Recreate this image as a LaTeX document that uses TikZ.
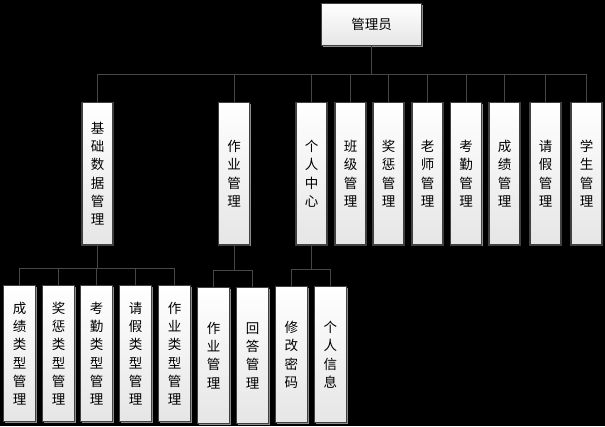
\documentclass[tikz,border=0pt]{standalone}
\usepackage{fontspec}
\newfontfamily\cjkf{Noto Sans CJK SC}
\usetikzlibrary{shadows}
\begin{document}
\begin{tikzpicture}[x=1pt,y=-1pt,
  box/.style={draw=black!75,line width=1.2pt,top color=white,bottom color=black!10,
    drop shadow={shadow xshift=1.2pt,shadow yshift=-1.2pt,fill=black!45,opacity=1},
    inner sep=0pt,align=center,font=\cjkf\fontsize{13.5}{18.3}\selectfont},
  vbox/.style={box,minimum width=31pt},
  conn/.style={draw=black!72,line width=0.9pt}]
\fill[black] (0,0) rectangle (605,426);
\useasboundingbox (0,0) rectangle (605,426);
\node[box,minimum width=100pt,minimum height=42pt] (root) at (371.7,24.5) {管理员};
% row 2
\foreach \n/\x/\t in {r1/97.5/基\\础\\数\\据\\管\\理, r2/234/作\\业\\管\\理, r3/311.5/个\\人\\中\\心,
  r4/350.5/班\\级\\管\\理, r5/388.5/奖\\惩\\管\\理, r6/427.5/老\\师\\管\\理, r7/466/考\\勤\\管\\理,
  r8/504.5/成\\绩\\管\\理, r9/545.5/请\\假\\管\\理, r10/586.5/学\\生\\管\\理}
  {\node[vbox,minimum height=142.5pt] (\n) at (\x,173.7) {\t};}
% row 3
\foreach \n/\x/\t in {a1/19.5/成\\绩\\类\\型\\管\\理, a2/58.5/奖\\惩\\类\\型\\管\\理, a3/96.5/考\\勤\\类\\型\\管\\理,
  a4/135.5/请\\假\\类\\型\\管\\理, a5/174.5/作\\业\\类\\型\\管\\理}
  {\node[vbox,minimum width=32pt,minimum height=136pt] (\n) at (\x,353.7) {\t};}
\node[vbox,minimum width=32pt,minimum height=135.6pt] (b1) at (213.5,355.5) {作\\业\\管\\理};
\node[vbox,minimum width=32pt,minimum height=135.6pt] (b2) at (252.5,355.5) {回\\答\\管\\理};
\node[vbox,minimum width=32pt,minimum height=136pt] (c1) at (291.3,354.7) {修\\改\\密\\码};
\node[vbox,minimum width=32pt,minimum height=136pt] (c2) at (330.3,354.7) {个\\人\\信\\息};
% bus levels
\coordinate (L0) at (0,74.7);
\coordinate (L1) at (0,268.3);
\coordinate (L2) at (0,270.7);
\coordinate (L3) at (0,269.3);
\foreach \c in {r1,r2,r3,r4,r5,r6,r7,r8,r9,r10}
  {\draw[conn] (root.south) -- (root.south |- L0) -| (\c.north);}
\foreach \c in {a1,a2,a3,a4,a5}
  {\draw[conn] (r1.south) -- (r1.south |- L1) -| (\c.north);}
\foreach \c in {b1,b2}
  {\draw[conn] (r2.south) -- (r2.south |- L2) -| (\c.north);}
\foreach \c in {c1,c2}
  {\draw[conn] (r3.south) -- (r3.south |- L3) -| (\c.north);}
\end{tikzpicture}
\end{document}
